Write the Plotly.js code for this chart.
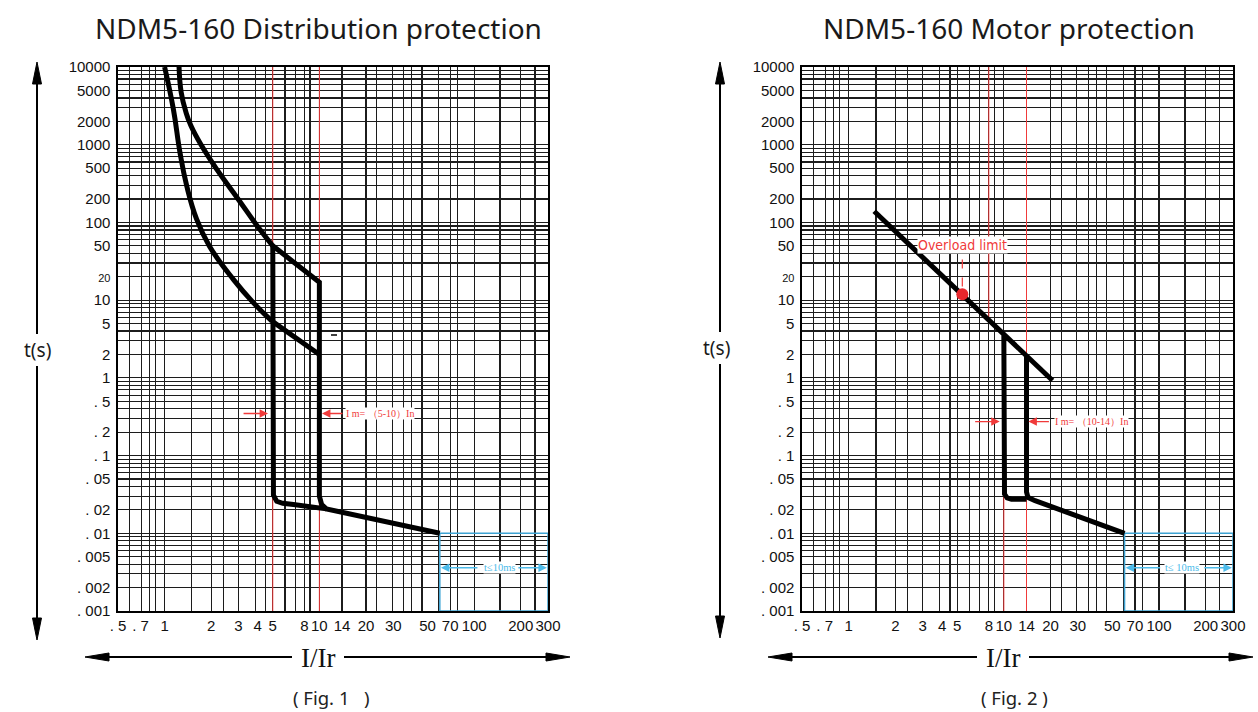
<!DOCTYPE html>
<html><head><meta charset="utf-8">
<script src="https://cdn.plot.ly/plotly-3.0.1.min.js"></script>
<style>html,body{margin:0;padding:0;background:#fff}#chart{width:1258px;height:712px}</style>
</head><body><div id="chart"></div>
<script>
// ---------- tick labels & grid ----------
const X_TICK_VALS = [0.5,0.7,1,2,3,4,5,8,10,14,20,30,50,70,100,200,300];
const X_TICK_TEXT = ['. 5','. 7','1','2','3','4','5','8','10','14','20','30','50','70','100','200','300'];
const X_GRID = [0.59,0.71,0.8,0.87,1,1.5,2,2.4,3,3.85,4.5,5,6,7,8,8.7,10,14,20,23.5,29.5,35,39.5,46,59,70,78,100,147,200,247];
const Y_TICK_VALS = [10000,5000,2000,1000,500,200,100,50,20,10,5,2,1,0.5,0.2,0.1,0.05,0.02,0.01,0.005,0.002,0.001];
const Y_TICK_TEXT = ['10000','5000','2000','1000','500','200','100','50','<span style="font-size:11px">20</span>','10','5','2','1','. 5','. 2','. 1','. 05','. 02','. 01','. 005','. 002','. 001'];
const Y_GRID_MINOR = [0.003,0.004,0.006,0.007,0.008,0.009,0.03,0.04,0.06,0.07,0.08,0.09,0.3,0.4,0.6,0.7,0.8,0.9,3,4,6,7,8,9,30,40,60,70,80,90,300,400,600,700,800,900,3000,4000,6000,7000,8000,9000];

// ---------- Fig.1 distribution protection curves (I/Ir, t s) ----------
const L_LOWER_THERMAL_I = [1.0,1.139,1.257,1.39,1.61,1.945,2.78,3.74,4.94];
const L_LOWER_THERMAL_T = [10000,2876,795,295,110,49.8,18.5,9.29,5.37];
const L_LOWER_TAIL_I = [4.94,10];
const L_LOWER_TAIL_T = [5.37,2.0];
const L_UPPER_THERMAL_I = [1.24,1.28,1.375,1.48,1.736,2.17,2.99,3.97,5];
const L_UPPER_THERMAL_T = [10000,4720,2606,1754,968,485,199,90,50];
const L_UPPER_TRIP_I = [5,10,10,10.35,11.1,60];
const L_UPPER_TRIP_T = [50,17,0.03,0.0234,0.0206,0.01];
const L_INST_I = [5,5,5.05,5.3,5.8,6.8,11.1];
const L_INST_T = [50,0.037,0.031,0.0258,0.0243,0.0234,0.0206];
const L_RED_LINES = [5,10];

// ---------- Fig.2 motor protection curves ----------
const R_OVERLOAD_I = [1.46,20.6];
const R_OVERLOAD_T = [139,0.925];
const R_INST_LOW_I = [10,10,10.1,10.5,11.2,14];
const R_INST_LOW_T = [3.5,0.04,0.032,0.0285,0.0275,0.0275];
const R_INST_HIGH_I = [14,14,14.3,15.9,60];
const R_INST_HIGH_T = [1.9,0.034,0.029,0.0263,0.01];
const R_LIMIT_POINT_I = [5.4];
const R_LIMIT_POINT_T = [11.9];
const R_RED_LINES_I = [8,10,14];
const R_RED_LINES_T0 = [5.5,0.001,0.001];
const R_RED_LINES_T1 = [10000,3.5,10000];
const ZONE_I = [60,300];
const ZONE_T = [0.001,0.01];

// ---------- helpers ----------
const W = 1258, H = 712;
const PX = v => v / W, PY = v => 1 - v / H;
const L = Math.log10;
const GRID = '#1c1c1c';
const RED = '#f03a3a';
const BLUE = '#3ea4d4';
const CYAN = '#4dbbea';
const NB = '\u00a0';

function xAxis(l, r, anchor) {
  return {type:'log', domain:[PX(l), PX(r)], anchor, range:[L(0.5), L(300)],
    tickmode:'array', tickvals:X_TICK_VALS, ticktext:X_TICK_TEXT, tickangle:0,
    showgrid:false, ticks:'', zeroline:false, showline:true, mirror:true, linecolor:'#000', linewidth:1.6,
    minor:{tickmode:'array', tickvals:X_GRID, showgrid:true, gridcolor:GRID, gridwidth:1.15, ticks:''},
    tickfont:{family:'Liberation Sans, Arial, sans-serif', size:15, color:'#111'}, fixedrange:true};
}
function yAxis(anchor) {
  return {type:'log', domain:[PY(611), PY(67)], anchor, range:[-3, 4],
    tickmode:'array', tickvals:Y_TICK_VALS, ticktext:Y_TICK_TEXT,
    showgrid:true, gridcolor:GRID, gridwidth:1.15, ticks:'', zeroline:false,
    showline:true, mirror:true, linecolor:'#000', linewidth:1.6, ticklabelstandoff:3,
    minor:{tickmode:'array', tickvals:Y_GRID_MINOR, showgrid:true, gridcolor:GRID, gridwidth:1.15, ticks:''},
    tickfont:{family:'Liberation Sans, Arial, sans-serif', size:15, color:'#111'}, fixedrange:true};
}

function line(xs, ys, xa, ya, spline) {
  return {x:xs, y:ys, xaxis:xa, yaxis:ya, mode:'lines', hoverinfo:'skip', showlegend:false,
    line:{color:'#000', width:5, shape: spline ? 'spline' : 'linear', smoothing:1.3}};
}

const traces = [
  line(L_LOWER_THERMAL_I, L_LOWER_THERMAL_T, 'x', 'y', true),
  line(L_LOWER_TAIL_I, L_LOWER_TAIL_T, 'x', 'y'),
  line(L_UPPER_THERMAL_I, L_UPPER_THERMAL_T, 'x', 'y', true),
  line(L_UPPER_TRIP_I, L_UPPER_TRIP_T, 'x', 'y'),
  line(L_INST_I, L_INST_T, 'x', 'y'),
  line(R_OVERLOAD_I, R_OVERLOAD_T, 'x2', 'y2'),
  line(R_INST_LOW_I, R_INST_LOW_T, 'x2', 'y2'),
  line(R_INST_HIGH_I, R_INST_HIGH_T, 'x2', 'y2'),
  {x:R_LIMIT_POINT_I, y:R_LIMIT_POINT_T, xaxis:'x2', yaxis:'y2', mode:'markers', hoverinfo:'skip', showlegend:false,
   marker:{color:'#e8262c', size:12}}
];

const shapes = [];
L_RED_LINES.forEach(v => shapes.push({type:'line', xref:'x', yref:'y', x0:v, x1:v, y0:0.001, y1:10000, layer:'between', line:{color:RED, width:1}}));
R_RED_LINES_I.forEach((v,i) => shapes.push({type:'line', xref:'x2', yref:'y2', x0:v, x1:v, y0:R_RED_LINES_T0[i], y1:R_RED_LINES_T1[i], layer:'between', line:{color:RED, width:1}}));
[['x','y'],['x2','y2']].forEach(([xa,ya]) => shapes.push({type:'rect', xref:xa, yref:ya, x0:ZONE_I[0], x1:ZONE_I[1], y0:ZONE_T[0], y1:ZONE_T[1], layer:'between', line:{color:BLUE, width:1.5}}));
shapes.push({type:'line', xref:'x2', yref:'y2', x0:5.4, x1:5.4, y0:15, y1:38, layer:'above', line:{color:RED, width:1.2, dash:'dash'}});

function seg(x0,y0,x1,y1,w){ shapes.push({type:'line', xref:'paper', yref:'paper', x0:PX(x0), y0:PY(y0), x1:PX(x1), y1:PY(y1), line:{color:'#000', width:w||2}}); }
function head(tx,ty,dx,dy,len,hw){
  const bx = tx - dx*len, by = ty - dy*len;
  const nx = -dy*hw, ny = dx*hw;
  const p = `M ${PX(tx)} ${PY(ty)} L ${PX(bx+nx)} ${PY(by+ny)} L ${PX(bx-nx)} ${PY(by-ny)} Z`;
  shapes.push({type:'path', xref:'paper', yref:'paper', path:p, fillcolor:'#000', line:{color:'#000', width:1}});
}
seg(37,80,37,334); seg(37,366,37,622); head(37,62,0,-1,22,4.5); head(37,640,0,1,22,4.5);
seg(103,657,292,657); seg(344,657,552,657); head(85,657,-1,0,24,4); head(570,657,1,0,24,4);
seg(720,80,720,332); seg(720,364,720,620); head(720,62,0,-1,22,4.5); head(720,638,0,1,22,4.5);
seg(786,657,977,657); seg(1029,657,1235,657); head(768,657,-1,0,24,4); head(1253,657,1,0,24,4);
seg(331,335,337,335,1.5); // small stray dash in Fig.1

const SANS = 'Noto Sans, Open Sans, sans-serif';
const SERIF = 'Liberation Serif, Times New Roman, serif';
function ptext(x, y, text, font) {
  return {xref:'paper', yref:'paper', x:PX(x), y:PY(y), xanchor:'center', yanchor:'middle', text, showarrow:false, font};
}
function arrow(xa, ya, x, y, ax, color) {
  return {xref:xa, yref:ya, x:L(x), y:L(y), ax, ay:0, text:'', showarrow:true, arrowhead:2, arrowsize:1.3, arrowwidth:1.3, arrowcolor:color, standoff:0};
}
function dtext(xa, ya, x, y, text, color, anchor, fam, size) {
  return {xref:xa, yref:ya, x:L(x), y:L(y), xanchor:anchor, yanchor:'middle', text, showarrow:false, bgcolor:'#fff', borderpad:0, font:{family:fam, size, color}};
}
const annotations = [
  ptext(318, 28, 'NDM5-160 Distribution protection', {family:SANS, size:28, color:'#1a1a1a'}),
  ptext(1009, 28, 'NDM5-160 Motor protection', {family:SANS, size:28, color:'#1a1a1a'}),
  ptext(37, 350, 't(s)', {family:SANS, size:19, color:'#1a1a1a'}),
  ptext(716, 348, 't(s)', {family:SANS, size:19, color:'#1a1a1a'}),
  ptext(318, 658, 'I/Ir', {family:SERIF, size:27, color:'#111'}),
  ptext(1003, 658, 'I/Ir', {family:SERIF, size:27, color:'#111'}),
  ptext(331, 697, '(' + NB + 'Fig.' + NB + '1' + NB + NB + NB + ')', {family:SANS, size:18.5, color:'#222'}),
  ptext(1014, 697, '(' + NB + 'Fig.' + NB + '2' + NB + ')', {family:SANS, size:18.5, color:'#222'}),
  arrow('x','y', 4.66, 0.348, -26, RED),
  arrow('x','y', 10.4, 0.348, 22, RED),
  dtext('x','y', 14.6, 0.348, 'I m= （5-10）In', RED, 'left', SERIF, 10),
  arrow('x','y', 61, 0.0036, 38, CYAN),
  arrow('x','y', 295, 0.0036, -30, CYAN),
  dtext('x','y', 145, 0.0036, 't≤10ms', CYAN, 'center', SERIF, 10.5),
  arrow('x2','y2', 9.4, 0.274, -26, RED),
  arrow('x2','y2', 14.4, 0.274, 22, RED),
  dtext('x2','y2', 20.9, 0.274, 'I m= （10-14）In', RED, 'left', SERIF, 10),
  arrow('x2','y2', 61, 0.0036, 36, CYAN),
  arrow('x2','y2', 295, 0.0036, -29, CYAN),
  dtext('x2','y2', 140, 0.0036, 't≤ 10ms', CYAN, 'center', SERIF, 10.5),
  dtext('x2','y2', 5.4, 50.9, 'Overload limit', RED, 'center', 'Liberation Sans Narrow, DejaVu Sans Condensed, sans-serif', 14)
];

const layout = {
  width:W, height:H, margin:{l:0,r:0,t:0,b:0,pad:0}, paper_bgcolor:'#fff', plot_bgcolor:'#fff',
  showlegend:false, hovermode:false,
  xaxis:xAxis(118,548,'y'), yaxis:yAxis('x'),
  xaxis2:xAxis(802,1233,'y2'), yaxis2:yAxis('x2'),
  shapes, annotations
};
Plotly.newPlot('chart', traces, layout, {staticPlot:true, displayModeBar:false});
</script></body></html>
